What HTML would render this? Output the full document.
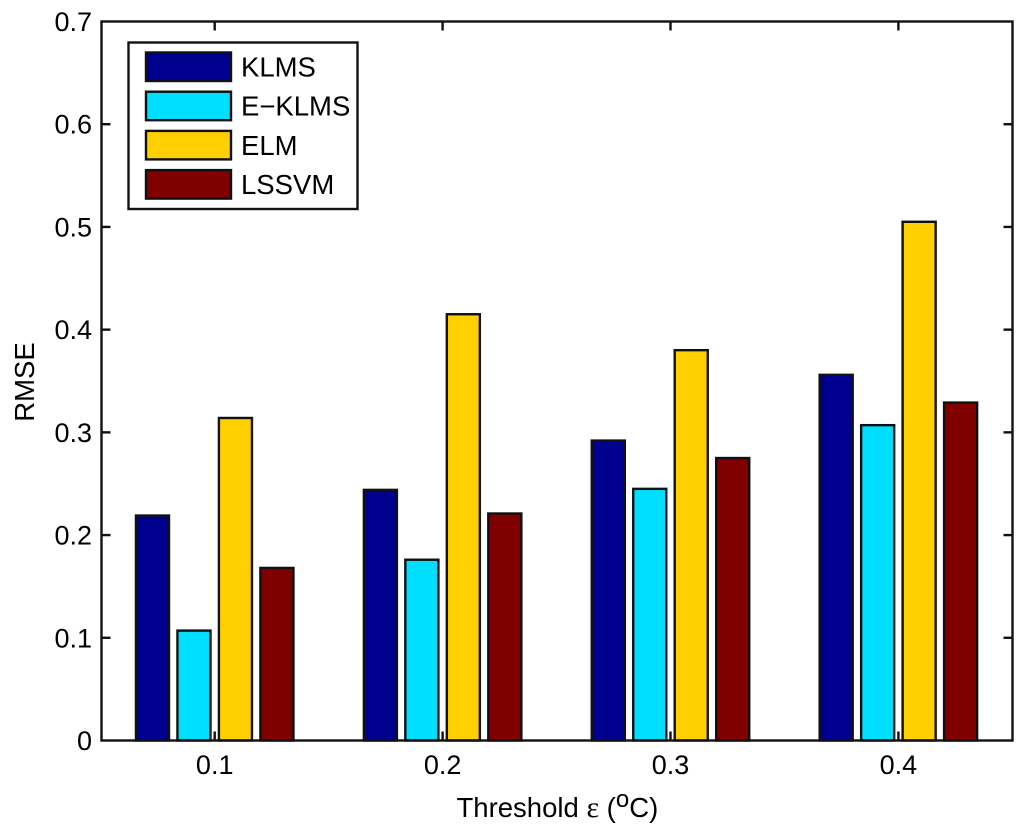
<!DOCTYPE html>
<html lang="en">
<head>
<meta charset="utf-8">
<title>RMSE by threshold</title>
<style>
html,body{margin:0;padding:0;background:#fff}
svg{display:block}
text{font-family:"Liberation Sans",sans-serif;fill:#000}
</style>
</head>
<body>
<svg id="chart" width="1024" height="832" viewBox="0 0 1024 832"></svg>
<script>
const categories = ['0.1', '0.2', '0.3', '0.4'];
const seriesNames = ['KLMS', 'E-KLMS', 'ELM', 'LSSVM'];
const seriesKlms = [0.219, 0.244, 0.292, 0.356];
const seriesEklms = [0.107, 0.176, 0.245, 0.307];
const seriesElm = [0.314, 0.415, 0.380, 0.505];
const seriesLssvm = [0.168, 0.221, 0.275, 0.329];
const yTicks = [0, 0.1, 0.2, 0.3, 0.4, 0.5, 0.6, 0.7];
const yTickLabels = ['0', '0.1', '0.2', '0.3', '0.4', '0.5', '0.6', '0.7'];

const seriesValues = [seriesKlms, seriesEklms, seriesElm, seriesLssvm];
const seriesColors = ['#00008f', '#00dfff', '#ffcf00', '#800000'];
const plot = {left: 101.5, right: 1012.5, top: 21.5, bottom: 740.5};
const tickFontSize = 27;
const textFontSize = 27.5;
const inkColor = '#111';
const lineWidth = 2.4;
const svgNS = 'http://www.w3.org/2000/svg';
const svg = document.getElementById('chart');

function xScale(position) {
  const firstCenter = 214.7, spacing = 227.9;
  return firstCenter + position * spacing;
}
function yScale(value) {
  return plot.bottom - (value / 0.7) * (plot.bottom - plot.top);
}
function make(tag, attrs, parent) {
  const el = document.createElementNS(svgNS, tag);
  for (const key in attrs) el.setAttribute(key, attrs[key]);
  (parent || svg).appendChild(el);
  return el;
}

/* bars */
const barsGroup = make('g', {});


const barStep = 0.182;
const barWidth = 0.145;
seriesValues.forEach(function (values, s) {
  values.forEach(function (value, c) {
    const center = c + (s - 1.5) * barStep;
    const x0 = xScale(center - barWidth / 2);
    const x1 = xScale(center + barWidth / 2);
    const bar = make('rect', {
      x: x0, y: yScale(value), width: x1 - x0, height: yScale(0) - yScale(value),
      fill: seriesColors[s], stroke: inkColor, 'stroke-width': lineWidth
    }, barsGroup);
    
    
  });
});

/* axes frame */
const frame = make('rect', {
  x: plot.left, y: plot.top, width: plot.right - plot.left, height: plot.bottom - plot.top,
  fill: 'none', stroke: inkColor, 'stroke-width': lineWidth
});



/* y ticks */
const yAxis = make('g', {});


yTicks.forEach(function (tick, i) {
  const y = yScale(tick);
  if (i > 0 && i < yTicks.length - 1) {
    make('line', {x1: plot.left, x2: plot.left + 9, y1: y, y2: y, stroke: inkColor, 'stroke-width': lineWidth}, yAxis);
    make('line', {x1: plot.right - 9, x2: plot.right, y1: y, y2: y, stroke: inkColor, 'stroke-width': lineWidth}, yAxis);
  }
  const label = make('text', {x: plot.left - 9.5, y: y + 9.5, 'text-anchor': 'end', 'font-size': tickFontSize}, yAxis);
  label.textContent = yTickLabels[i];
  
  
});

/* x ticks */
const xAxis = make('g', {});


categories.forEach(function (category, c) {
  const x = xScale(c);
  make('line', {x1: x, x2: x, y1: plot.bottom, y2: plot.bottom - 9, stroke: inkColor, 'stroke-width': lineWidth}, xAxis);
  make('line', {x1: x, x2: x, y1: plot.top, y2: plot.top + 9, stroke: inkColor, 'stroke-width': lineWidth}, xAxis);
  const label = make('text', {x: x, y: 774, 'text-anchor': 'middle', 'font-size': tickFontSize}, xAxis);
  label.textContent = category;
  
  
});

/* axis titles */
const yTitle = make('text', {
  transform: 'translate(34 382) rotate(-90)', 'text-anchor': 'middle', 'font-size': textFontSize
});
yTitle.textContent = 'RMSE';



const xTitle = make('text', {x: 456.5, y: 817, 'font-size': textFontSize});


xTitle.appendChild(document.createTextNode('Threshold '));
const epsilon = make('tspan', {style: 'font-family:"Liberation Serif",serif', 'font-size': 30}, xTitle);
epsilon.textContent = '\u03B5';
const open = make('tspan', {}, xTitle);
open.textContent = ' (';
const degree = make('tspan', {dy: -10, 'font-size': 24}, xTitle);
degree.textContent = 'o';
const unit = make('tspan', {dy: 10}, xTitle);
unit.textContent = 'C)';

/* legend */
const legend = make('g', {});


make('rect', {x: 128.5, y: 42.5, width: 229, height: 166.5, fill: '#fff', stroke: inkColor, 'stroke-width': lineWidth}, legend);
const legendLabels = ['KLMS', 'E\u2212KLMS', 'ELM', 'LSSVM'];
seriesNames.forEach(function (name, s) {
  const top = 52.5 + s * 39.2;
  const entry = make('g', {}, legend);
  
  
  make('rect', {x: 146, y: top, width: 85, height: 28.5, fill: seriesColors[s], stroke: inkColor, 'stroke-width': lineWidth}, entry);
  const label = make('text', {x: 241, y: top + 24, 'font-size': textFontSize}, entry);
  label.textContent = legendLabels[s];
});
</script>
</body>
</html>
